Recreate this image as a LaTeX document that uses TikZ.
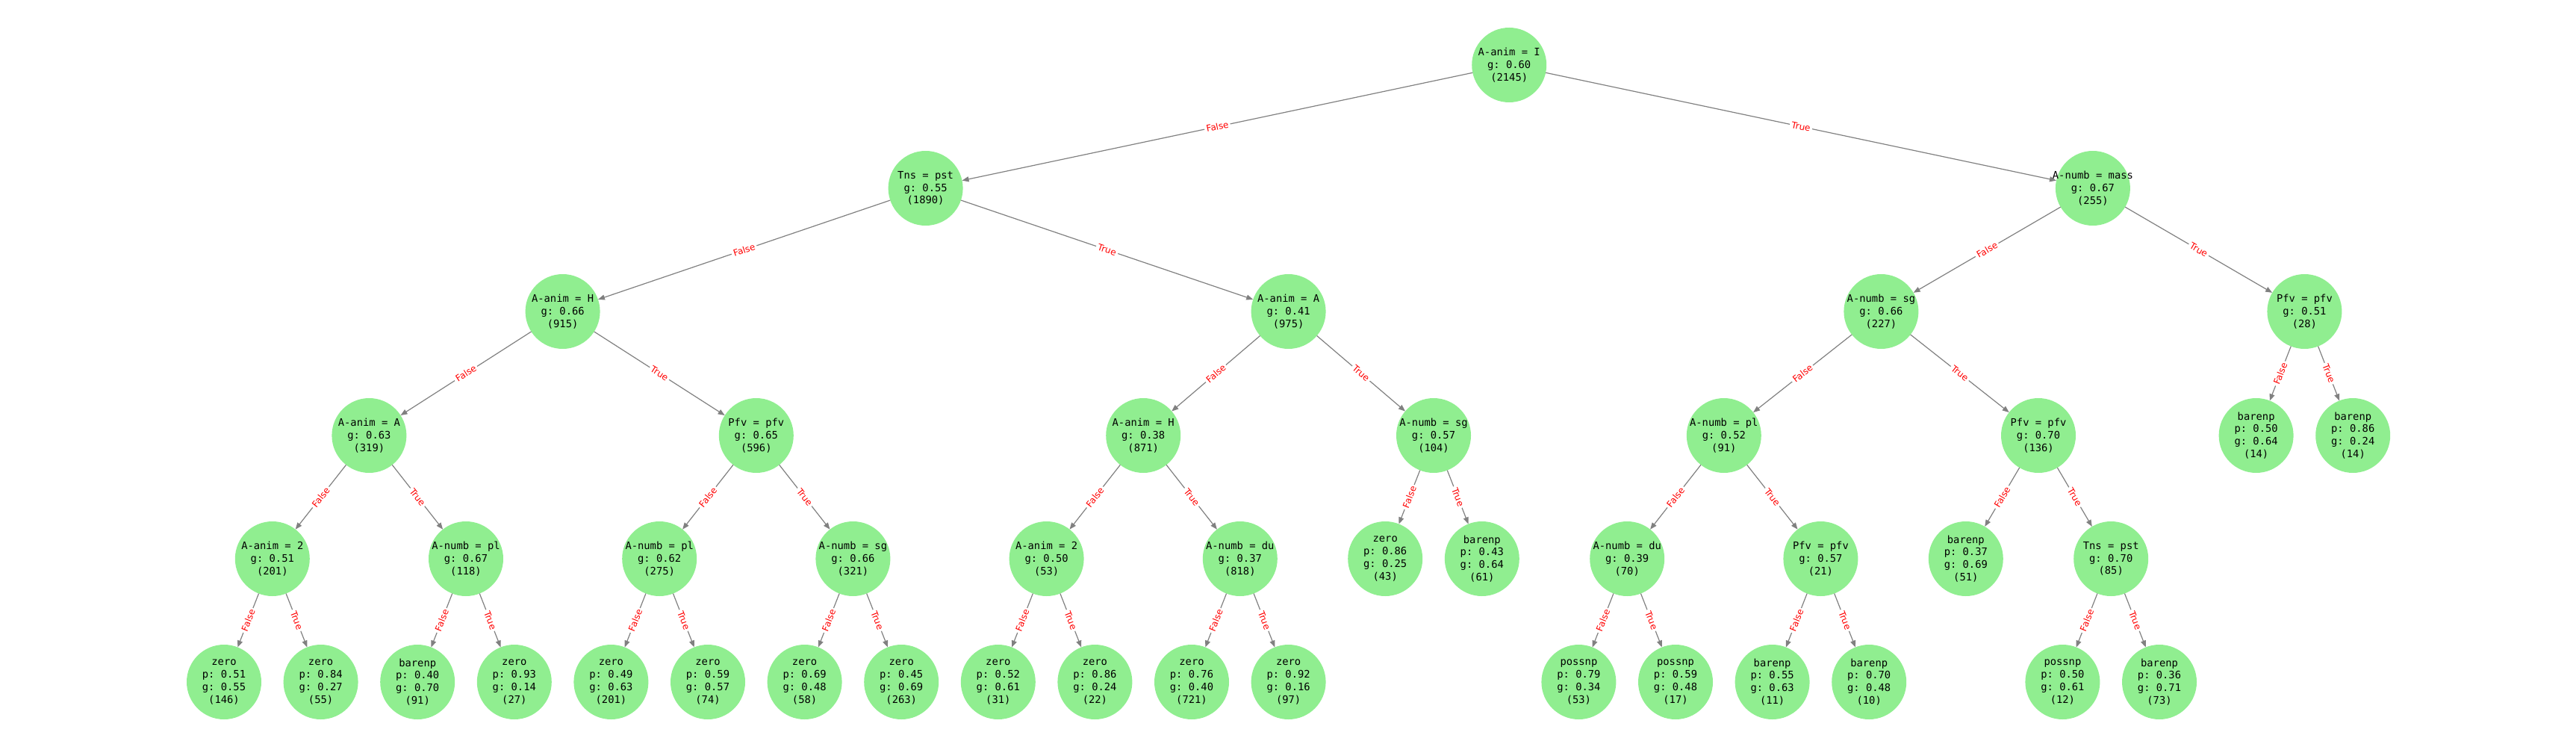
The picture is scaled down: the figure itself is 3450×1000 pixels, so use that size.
\documentclass[tikz,border=0pt]{standalone}
\usepackage{fontspec}
\setmonofont{DejaVu Sans Mono}
\setsansfont{DejaVu Sans}
\usepackage{tikz}
\usetikzlibrary{arrows.meta}
\definecolor{leafgreen}{HTML}{90EE90}
\definecolor{arcgray}{HTML}{808080}

\begin{document}
\begin{tikzpicture}
  [x=1pt,y=-1pt,
   treeN/.style={circle,fill=leafgreen,minimum size=100pt,inner sep=-12pt,
     outer sep=0pt,align=center,font=\ttfamily\fontsize{13.8}{16.7}\selectfont},
   arcE/.style={draw=arcgray,line width=1.2pt,{Triangle[length=9pt,width=7pt]}-},
   lblN/.style={sloped,midway,fill=white,text=red,inner sep=2.5pt,
     font=\sffamily\fontsize{12}{12}\selectfont}]

  \useasboundingbox (0,0) rectangle (3450,1000);

  % root
  \node[treeN] (root) at (2021.2,87) {A-anim = I\\g: 0.60\\(2145)};

  % level 1
  \node[treeN] (F) at (1239.6,252) {Tns = pst\\g: 0.55\\(1890)}
    edge [arcE] node[lblN] {False} (root);
  \node[treeN] (T) at (2802.9,252) {A-numb = mass\\g: 0.67\\(255)}
    edge [arcE] node[lblN] {True} (root);

  % level 2
  \node[treeN] (FF) at (753.6,417) {A-anim = H\\g: 0.66\\(915)}
    edge [arcE] node[lblN] {False} (F);
  \node[treeN] (FT) at (1725.6,417) {A-anim = A\\g: 0.41\\(975)}
    edge [arcE] node[lblN] {True} (F);
  \node[treeN] (TF) at (2519.4,417) {A-numb = sg\\g: 0.66\\(227)}
    edge [arcE] node[lblN] {False} (T);
  \node[treeN] (TT) at (3086.4,417) {Pfv = pfv\\g: 0.51\\(28)}
    edge [arcE] node[lblN] {True} (T);

  % level 3
  \node[treeN] (FFF) at (494.4,583) {A-anim = A\\g: 0.63\\(319)}
    edge [arcE] node[lblN] {False} (FF);
  \node[treeN] (FFT) at (1012.8,583) {Pfv = pfv\\g: 0.65\\(596)}
    edge [arcE] node[lblN] {True} (FF);
  \node[treeN] (FTF) at (1531.2,583) {A-anim = H\\g: 0.38\\(871)}
    edge [arcE] node[lblN] {False} (FT);
  \node[treeN] (FTT) at (1920,583) {A-numb = sg\\g: 0.57\\(104)}
    edge [arcE] node[lblN] {True} (FT);
  \node[treeN] (TFF) at (2308.8,583) {A-numb = pl\\g: 0.52\\(91)}
    edge [arcE] node[lblN] {False} (TF);
  \node[treeN] (TFT) at (2730,583) {Pfv = pfv\\g: 0.70\\(136)}
    edge [arcE] node[lblN] {True} (TF);
  \node[treeN] (TTF) at (3021.6,583) {barenp\\p: 0.50\\g: 0.64\\(14)}
    edge [arcE] node[lblN] {False} (TT);
  \node[treeN] (TTT) at (3151.2,583) {barenp\\p: 0.86\\g: 0.24\\(14)}
    edge [arcE] node[lblN] {True} (TT);

  % level 4
  \node[treeN] (FFFF) at (364.8,748) {A-anim = 2\\g: 0.51\\(201)}
    edge [arcE] node[lblN] {False} (FFF);
  \node[treeN] (FFFT) at (624,748) {A-numb = pl\\g: 0.67\\(118)}
    edge [arcE] node[lblN] {True} (FFF);
  \node[treeN] (FFTF) at (883.2,748) {A-numb = pl\\g: 0.62\\(275)}
    edge [arcE] node[lblN] {False} (FFT);
  \node[treeN] (FFTT) at (1142.4,748) {A-numb = sg\\g: 0.66\\(321)}
    edge [arcE] node[lblN] {True} (FFT);
  \node[treeN] (FTFF) at (1401.6,748) {A-anim = 2\\g: 0.50\\(53)}
    edge [arcE] node[lblN] {False} (FTF);
  \node[treeN] (FTFT) at (1660.8,748) {A-numb = du\\g: 0.37\\(818)}
    edge [arcE] node[lblN] {True} (FTF);
  \node[treeN] (FTTF) at (1855.2,748) {zero\\p: 0.86\\g: 0.25\\(43)}
    edge [arcE] node[lblN] {False} (FTT);
  \node[treeN] (FTTT) at (1984.8,748) {barenp\\p: 0.43\\g: 0.64\\(61)}
    edge [arcE] node[lblN] {True} (FTT);
  \node[treeN] (TFFF) at (2179.2,748) {A-numb = du\\g: 0.39\\(70)}
    edge [arcE] node[lblN] {False} (TFF);
  \node[treeN] (TFFT) at (2438.4,748) {Pfv = pfv\\g: 0.57\\(21)}
    edge [arcE] node[lblN] {True} (TFF);
  \node[treeN] (TFTF) at (2632.8,748) {barenp\\p: 0.37\\g: 0.69\\(51)}
    edge [arcE] node[lblN] {False} (TFT);
  \node[treeN] (TFTT) at (2827.2,748) {Tns = pst\\g: 0.70\\(85)}
    edge [arcE] node[lblN] {True} (TFT);

  % level 5
  \node[treeN] (FFFFF) at (300,913) {zero\\p: 0.51\\g: 0.55\\(146)}
    edge [arcE] node[lblN] {False} (FFFF);
  \node[treeN] (FFFFT) at (429.6,913) {zero\\p: 0.84\\g: 0.27\\(55)}
    edge [arcE] node[lblN] {True} (FFFF);
  \node[treeN] (FFFTF) at (559.2,913) {barenp\\p: 0.40\\g: 0.70\\(91)}
    edge [arcE] node[lblN] {False} (FFFT);
  \node[treeN] (FFFTT) at (688.8,913) {zero\\p: 0.93\\g: 0.14\\(27)}
    edge [arcE] node[lblN] {True} (FFFT);
  \node[treeN] (FFTFF) at (818.4,913) {zero\\p: 0.49\\g: 0.63\\(201)}
    edge [arcE] node[lblN] {False} (FFTF);
  \node[treeN] (FFTFT) at (948,913) {zero\\p: 0.59\\g: 0.57\\(74)}
    edge [arcE] node[lblN] {True} (FFTF);
  \node[treeN] (FFTTF) at (1077.6,913) {zero\\p: 0.69\\g: 0.48\\(58)}
    edge [arcE] node[lblN] {False} (FFTT);
  \node[treeN] (FFTTT) at (1207.2,913) {zero\\p: 0.45\\g: 0.69\\(263)}
    edge [arcE] node[lblN] {True} (FFTT);
  \node[treeN] (FTFFF) at (1336.8,913) {zero\\p: 0.52\\g: 0.61\\(31)}
    edge [arcE] node[lblN] {False} (FTFF);
  \node[treeN] (FTFFT) at (1466.4,913) {zero\\p: 0.86\\g: 0.24\\(22)}
    edge [arcE] node[lblN] {True} (FTFF);
  \node[treeN] (FTFTF) at (1596,913) {zero\\p: 0.76\\g: 0.40\\(721)}
    edge [arcE] node[lblN] {False} (FTFT);
  \node[treeN] (FTFTT) at (1725.6,913) {zero\\p: 0.92\\g: 0.16\\(97)}
    edge [arcE] node[lblN] {True} (FTFT);
  \node[treeN] (TFFFF) at (2114.4,913) {possnp\\p: 0.79\\g: 0.34\\(53)}
    edge [arcE] node[lblN] {False} (TFFF);
  \node[treeN] (TFFFT) at (2244,913) {possnp\\p: 0.59\\g: 0.48\\(17)}
    edge [arcE] node[lblN] {True} (TFFF);
  \node[treeN] (TFFTF) at (2373.6,913) {barenp\\p: 0.55\\g: 0.63\\(11)}
    edge [arcE] node[lblN] {False} (TFFT);
  \node[treeN] (TFFTT) at (2503.2,913) {barenp\\p: 0.70\\g: 0.48\\(10)}
    edge [arcE] node[lblN] {True} (TFFT);
  \node[treeN] (TFTTF) at (2762.4,913) {possnp\\p: 0.50\\g: 0.61\\(12)}
    edge [arcE] node[lblN] {False} (TFTT);
  \node[treeN] (TFTTT) at (2892,913) {barenp\\p: 0.36\\g: 0.71\\(73)}
    edge [arcE] node[lblN] {True} (TFTT);

\end{tikzpicture}
\end{document}
